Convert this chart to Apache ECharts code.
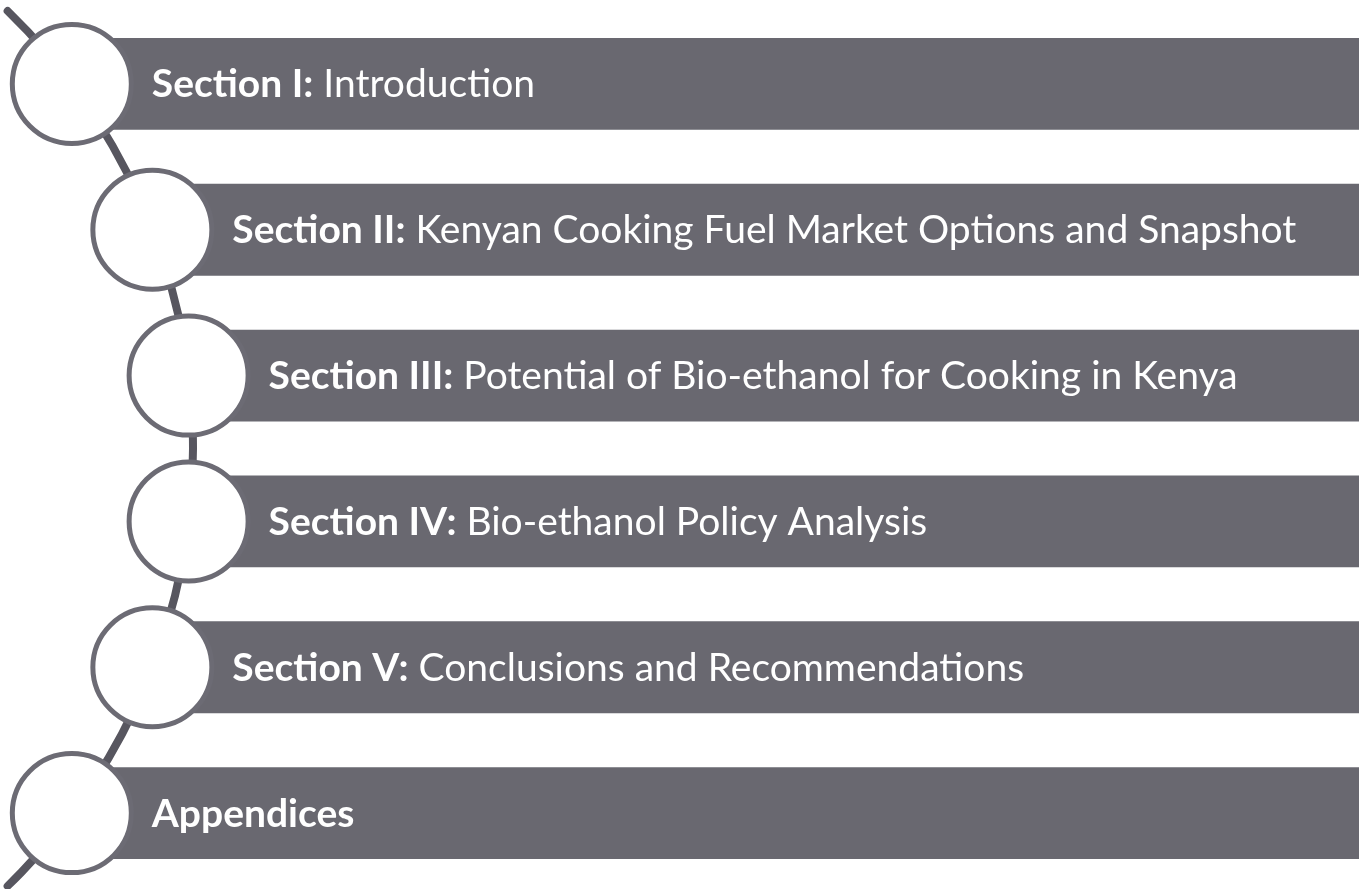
<!DOCTYPE html>
<html>
<head>
<meta charset="utf-8">
<script src="https://cdn.jsdelivr.net/npm/echarts@6/dist/echarts.min.js"></script>
<style>
  html, body { margin: 0; padding: 0; background: #fff; }
  #main { width: 1359px; height: 889px; }
</style>
</head>
<body>
<div id="main"></div>
<script>
// bold lead-in and plain remainder of every row
const boldParts = ['Section I:', 'Section II:', 'Section III:', 'Section IV:', 'Section V:', 'Appendices'];
const plainParts = [
  'Introduction',
  'Kenyan Cooking Fuel Market Options and Snapshot',
  'Potential of Bio-ethanol for Cooking in Kenya',
  'Bio-ethanol Policy Analysis',
  'Conclusions and Recommendations',
  ''
];

// layout of the curved connector (x value of centre, radius in px)
const ARC_CENTER_X = -416;
const ARC_RADIUS = 609;

const BAR_COLOR = '#696870';
const RING_COLOR = '#6c6b74';
const ARC_COLOR = '#57565f';
const FONT = 'Lato, "Open Sans", sans-serif';
const FONT_SIZE = 39;

const chart = echarts.init(document.getElementById('main'));

function middleY(api) {
  return (api.coord([0, 0])[1] + api.coord([0, boldParts.length - 1])[1]) / 2;
}

function circleX(api, cy) {
  const cx = api.coord([ARC_CENTER_X, 0])[0];
  const dy = cy - middleY(api);
  return cx + Math.sqrt(ARC_RADIUS * ARC_RADIUS - dy * dy);
}

function renderArc(params, api) {
  const cs = params.coordSys;
  const mid = middleY(api);
  return {
    type: 'arc',
    shape: {
      cx: api.coord([ARC_CENTER_X, 0])[0],
      cy: mid,
      r: ARC_RADIUS,
      startAngle: Math.asin((cs.y - mid) / ARC_RADIUS),
      endAngle: Math.asin((cs.y + cs.height - mid) / ARC_RADIUS),
      clockwise: true
    },
    style: { stroke: ARC_COLOR, lineWidth: 8, fill: null, lineCap: 'round' }
  };
}

function renderRow(params, api) {
  const i = api.value(0);
  const cs = params.coordSys;
  const cy = api.coord([0, i])[1];
  const band = api.size([0, 1])[1];
  const cx = circleX(api, cy);
  const barH = band * 0.63;
  const right = cs.x + cs.width;
  const plain = plainParts[i];
  const text = '{b|' + boldParts[i] + '}' + (plain ? '{r| ' + plain + '}' : '');
  return {
    type: 'group',
    children: [
      {
        type: 'rect',
        shape: { x: cx, y: cy - barH / 2, width: right - cx, height: barH },
        style: { fill: BAR_COLOR }
      },
      {
        type: 'circle',
        shape: { cx: cx, cy: cy, r: 59.5 },
        style: { fill: '#fff', stroke: RING_COLOR, lineWidth: 5 }
      },
      {
        type: 'text',
        x: cx + 80,
        y: cy + 1,
        style: {
          text: text,
          verticalAlign: 'middle',
          align: 'left',
          fill: '#fff',
          rich: {
            b: { fontFamily: FONT, fontSize: FONT_SIZE, fontWeight: 'bold', fill: '#fff' },
            r: { fontFamily: FONT, fontSize: FONT_SIZE, fontWeight: 'normal', fill: '#fff' }
          }
        }
      }
    ]
  };
}

chart.setOption({
  animation: false,
  grid: { left: 0, right: 0, top: 11, bottom: 3 },
  xAxis: { type: 'value', min: 0, max: 1359, show: false },
  yAxis: { type: 'category', data: boldParts, inverse: true, show: false },
  series: [
    {
      type: 'custom',
      renderItem: renderArc,
      data: [[0]],
      encode: { y: 0 },
      z: 1
    },
    {
      type: 'custom',
      renderItem: renderRow,
      data: boldParts.map((b, i) => [i]),
      encode: { y: 0 },
      z: 2
    }
  ]
});
</script>
</body>
</html>
